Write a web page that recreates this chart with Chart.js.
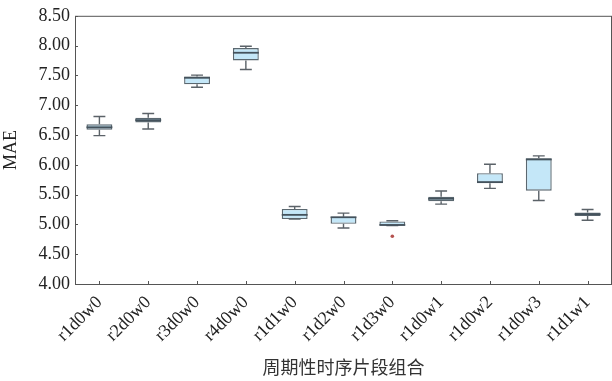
<!DOCTYPE html>
<html>
<head>
<meta charset="utf-8">
<script src="https://cdn.jsdelivr.net/npm/chart.js@4/dist/chart.umd.min.js"></script>
<style>
  html, body { margin: 0; padding: 0; background: #fff; }
  #chart { display: block; }
</style>
</head>
<body>
<canvas id="chart" width="612" height="381"></canvas>
<script>
const labels = ['r1d0w0', 'r2d0w0', 'r3d0w0', 'r4d0w0', 'r1d1w0', 'r1d2w0', 'r1d3w0', 'r1d0w1', 'r1d0w2', 'r1d0w3', 'r1d1w1'];
const whiskerMin = [6.49, 6.60, 7.30, 7.60, 5.09, 4.94, 4.98, 5.34, 5.605, 5.40, 5.07];
const q1 = [6.59, 6.71, 7.35, 7.75, 5.09, 5.01, 4.98, 5.39, 5.69, 5.565, 5.14];
const median = [6.63, 6.75, 7.46, 7.88, 5.16, 5.12, 4.99, 5.43, 5.71, 6.09, 5.17];
const q3 = [6.68, 6.79, 7.48, 7.96, 5.26, 5.13, 5.05, 5.465, 5.86, 6.11, 5.20];
const whiskerMax = [6.81, 6.86, 7.505, 7.99, 5.30, 5.19, 5.06, 5.56, 6.01, 6.15, 5.25];
// outliers as [category index, value]
const outliers = [[6, 4.80]];
const yTicks = [4.00, 4.50, 5.00, 5.50, 6.00, 6.50, 7.00, 7.50, 8.00, 8.50];

const ctx = document.getElementById('chart');

// whiskers, medians, outliers and the frame around the plot
const boxExtras = {
  id: 'boxExtras',
  afterDatasetsDraw(chart) {
    const c = chart.ctx;
    const x = chart.scales.x;
    const y = chart.scales.y;
    const meta = chart.getDatasetMeta(0);
    c.save();
    labels.forEach((lab, i) => {
      const px = x.getPixelForValue(i);
      const bw = meta.data[i].width;
      const cap = bw * 0.46;
      c.strokeStyle = '#5b6268';
      c.lineWidth = 1.4;
      c.beginPath();
      c.moveTo(px, y.getPixelForValue(q3[i]));
      c.lineTo(px, y.getPixelForValue(whiskerMax[i]));
      c.moveTo(px - cap / 2, y.getPixelForValue(whiskerMax[i]));
      c.lineTo(px + cap / 2, y.getPixelForValue(whiskerMax[i]));
      c.moveTo(px, y.getPixelForValue(q1[i]));
      c.lineTo(px, y.getPixelForValue(whiskerMin[i]));
      c.moveTo(px - cap / 2, y.getPixelForValue(whiskerMin[i]));
      c.lineTo(px + cap / 2, y.getPixelForValue(whiskerMin[i]));
      c.stroke();
      c.strokeStyle = '#44525c';
      c.lineWidth = 1.8;
      c.beginPath();
      c.moveTo(px - bw / 2, y.getPixelForValue(median[i]));
      c.lineTo(px + bw / 2, y.getPixelForValue(median[i]));
      c.stroke();
    });
    outliers.forEach(([i, v]) => {
      c.fillStyle = '#b5524f';
      c.beginPath();
      c.arc(x.getPixelForValue(i), y.getPixelForValue(v), 1.8, 0, Math.PI * 2);
      c.fill();
    });
    const a = chart.chartArea;
    c.strokeStyle = '#555';
    c.lineWidth = 1;
    c.strokeRect(a.left + 0.5, a.top + 0.5, a.right - a.left - 1, a.bottom - a.top);
    c.beginPath();
    yTicks.forEach(v => {
      const py = Math.round(y.getPixelForValue(v)) + 0.5;
      c.moveTo(a.left, py);
      c.lineTo(a.left + 3, py);
    });
    labels.forEach((lab, i) => {
      const px = Math.round(x.getPixelForValue(i)) + 0.5;
      c.moveTo(px, a.bottom);
      c.lineTo(px, a.bottom - 3);
    });
    c.stroke();
    c.restore();
  }
};

new Chart(ctx, {
  type: 'bar',
  data: {
    labels: labels,
    datasets: [{
      data: labels.map((lab, i) => [q1[i], q3[i]]),
      backgroundColor: '#c4e7f8',
      borderColor: '#5b6870',
      borderWidth: 1.4,
      borderSkipped: false,
      barPercentage: 0.53,
      categoryPercentage: 1
    }]
  },
  options: {
    responsive: false,
    devicePixelRatio: 1,
    animation: false,
    layout: { padding: { top: 15, right: 0, left: 0, bottom: 0 } },
    scales: {
      x: {
        offset: true,
        grid: { display: false, drawTicks: false },
        border: { display: false },
        ticks: {
          minRotation: 45,
          maxRotation: 45,
          padding: 8,
          color: '#222',
          font: { family: 'Liberation Serif', size: 18 }
        },
        title: {
          display: true,
          text: '周期性时序片段组合',
          color: '#333',
          padding: { top: 0, bottom: 3 },
          font: { family: 'Noto Sans CJK SC', size: 18 }
        },
        afterFit(scale) { scale.height = 97; }
      },
      y: {
        min: 4,
        max: 8.5,
        afterBuildTicks(scale) { scale.ticks = yTicks.map(v => ({ value: v })); },
        grid: { display: false, drawTicks: false },
        border: { display: false },
        ticks: {
          padding: 5,
          color: '#222',
          font: { family: 'Liberation Serif', size: 18 },
          callback: v => v.toFixed(2)
        },
        title: {
          display: true,
          text: 'MAE',
          color: '#222',
          padding: { top: 0, bottom: 0 },
          font: { family: 'Liberation Serif', size: 18 }
        },
        afterFit(scale) { scale.width = 75; }
      }
    },
    plugins: {
      legend: { display: false },
      tooltip: { enabled: false }
    }
  },
  plugins: [boxExtras]
});
</script>
</body>
</html>
